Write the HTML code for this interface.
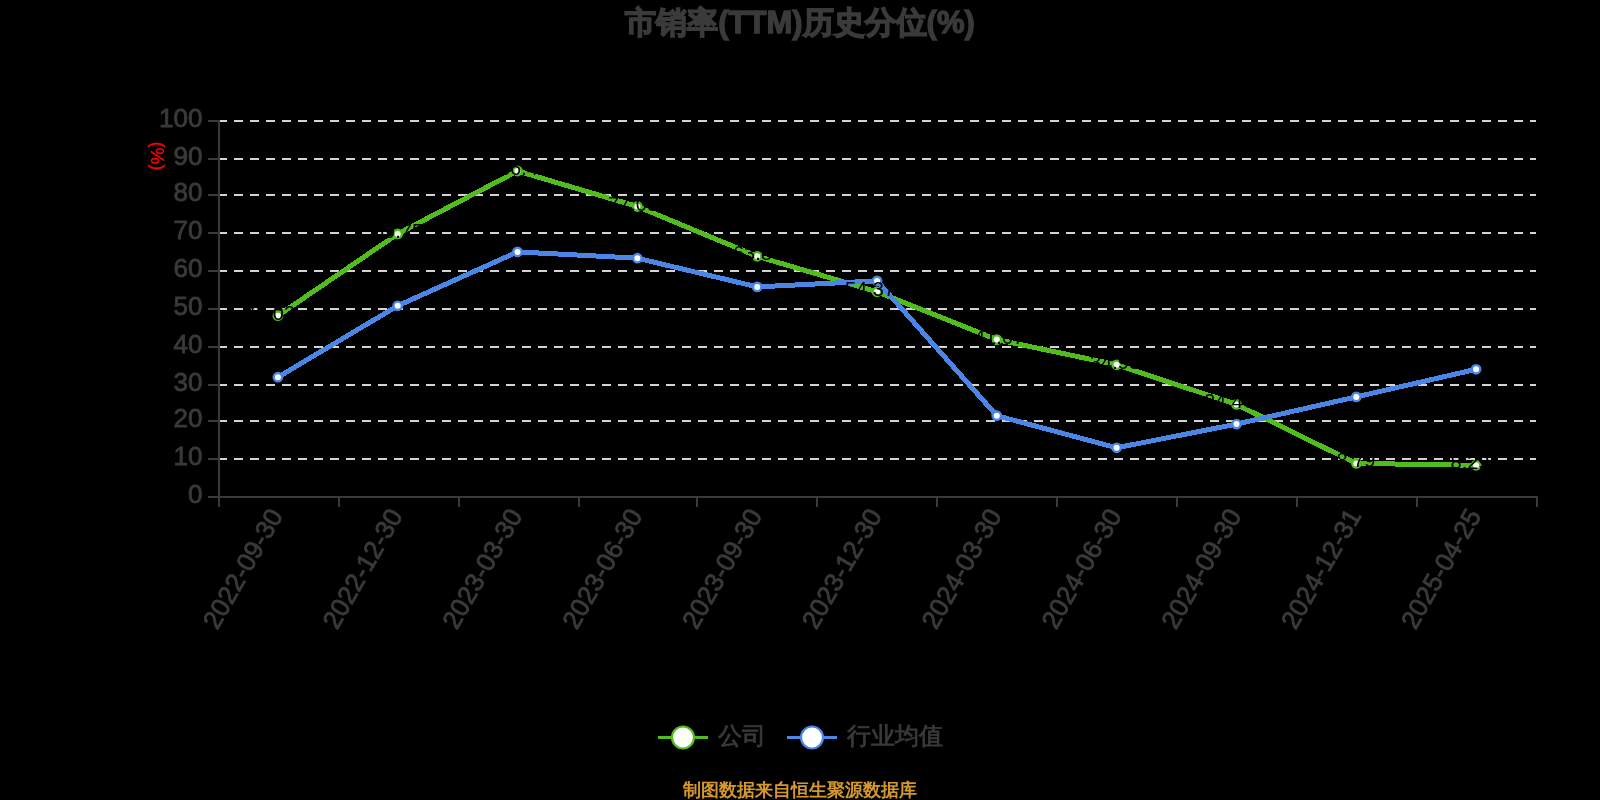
<!DOCTYPE html>
<html><head><meta charset="utf-8"><title>chart</title>
<style>
html,body{margin:0;padding:0;background:#000;width:1600px;height:800px;overflow:hidden}
svg{display:block;will-change:transform}
text{font-family:"Liberation Sans",sans-serif}
</style></head>
<body>
<svg width="1600" height="800" viewBox="0 0 1600 800">
<text x="800" y="33" text-anchor="middle" font-size="31" font-weight="bold" fill="#3a3a3a" stroke="#3a3a3a" stroke-width="1.3"><tspan stroke="#3a3a3a" stroke-width="1.4">市销率</tspan>(TTM)<tspan stroke="#3a3a3a" stroke-width="1.4">历史分位</tspan>(%)</text>
<line x1="218" y1="459" x2="1536" y2="459" stroke="#d4d4d4" stroke-width="2" stroke-dasharray="9 7"/>
<line x1="218" y1="421" x2="1536" y2="421" stroke="#d4d4d4" stroke-width="2" stroke-dasharray="9 7"/>
<line x1="218" y1="385" x2="1536" y2="385" stroke="#d4d4d4" stroke-width="2" stroke-dasharray="9 7"/>
<line x1="218" y1="347" x2="1536" y2="347" stroke="#d4d4d4" stroke-width="2" stroke-dasharray="9 7"/>
<line x1="218" y1="309" x2="1536" y2="309" stroke="#d4d4d4" stroke-width="2" stroke-dasharray="9 7"/>
<line x1="218" y1="271" x2="1536" y2="271" stroke="#d4d4d4" stroke-width="2" stroke-dasharray="9 7"/>
<line x1="218" y1="233" x2="1536" y2="233" stroke="#d4d4d4" stroke-width="2" stroke-dasharray="9 7"/>
<line x1="218" y1="195" x2="1536" y2="195" stroke="#d4d4d4" stroke-width="2" stroke-dasharray="9 7"/>
<line x1="218" y1="159" x2="1536" y2="159" stroke="#d4d4d4" stroke-width="2" stroke-dasharray="9 7"/>
<line x1="218" y1="121" x2="1536" y2="121" stroke="#d4d4d4" stroke-width="2" stroke-dasharray="9 7"/>
<line x1="208" y1="497" x2="219" y2="497" stroke="#3a3a3a" stroke-width="2"/>
<text x="202.5" y="503" text-anchor="end" font-size="26" fill="#3a3a3a" stroke="#3a3a3a" stroke-width="0.8">0</text>
<line x1="208" y1="459" x2="219" y2="459" stroke="#3a3a3a" stroke-width="2"/>
<text x="202.5" y="465" text-anchor="end" font-size="26" fill="#3a3a3a" stroke="#3a3a3a" stroke-width="0.8">10</text>
<line x1="208" y1="421" x2="219" y2="421" stroke="#3a3a3a" stroke-width="2"/>
<text x="202.5" y="427" text-anchor="end" font-size="26" fill="#3a3a3a" stroke="#3a3a3a" stroke-width="0.8">20</text>
<line x1="208" y1="385" x2="219" y2="385" stroke="#3a3a3a" stroke-width="2"/>
<text x="202.5" y="391" text-anchor="end" font-size="26" fill="#3a3a3a" stroke="#3a3a3a" stroke-width="0.8">30</text>
<line x1="208" y1="347" x2="219" y2="347" stroke="#3a3a3a" stroke-width="2"/>
<text x="202.5" y="353" text-anchor="end" font-size="26" fill="#3a3a3a" stroke="#3a3a3a" stroke-width="0.8">40</text>
<line x1="208" y1="309" x2="219" y2="309" stroke="#3a3a3a" stroke-width="2"/>
<text x="202.5" y="315" text-anchor="end" font-size="26" fill="#3a3a3a" stroke="#3a3a3a" stroke-width="0.8">50</text>
<line x1="208" y1="271" x2="219" y2="271" stroke="#3a3a3a" stroke-width="2"/>
<text x="202.5" y="277" text-anchor="end" font-size="26" fill="#3a3a3a" stroke="#3a3a3a" stroke-width="0.8">60</text>
<line x1="208" y1="233" x2="219" y2="233" stroke="#3a3a3a" stroke-width="2"/>
<text x="202.5" y="239" text-anchor="end" font-size="26" fill="#3a3a3a" stroke="#3a3a3a" stroke-width="0.8">70</text>
<line x1="208" y1="195" x2="219" y2="195" stroke="#3a3a3a" stroke-width="2"/>
<text x="202.5" y="201" text-anchor="end" font-size="26" fill="#3a3a3a" stroke="#3a3a3a" stroke-width="0.8">80</text>
<line x1="208" y1="159" x2="219" y2="159" stroke="#3a3a3a" stroke-width="2"/>
<text x="202.5" y="165" text-anchor="end" font-size="26" fill="#3a3a3a" stroke="#3a3a3a" stroke-width="0.8">90</text>
<line x1="208" y1="121" x2="219" y2="121" stroke="#3a3a3a" stroke-width="2"/>
<text x="202.5" y="127" text-anchor="end" font-size="26" fill="#3a3a3a" stroke="#3a3a3a" stroke-width="0.8">100</text>
<line x1="219" y1="120" x2="219" y2="498" stroke="#3a3a3a" stroke-width="2"/>
<line x1="208" y1="497" x2="1538" y2="497" stroke="#3a3a3a" stroke-width="2"/>
<line x1="219" y1="497" x2="219" y2="507" stroke="#3a3a3a" stroke-width="2"/>
<line x1="339" y1="497" x2="339" y2="507" stroke="#3a3a3a" stroke-width="2"/>
<line x1="459" y1="497" x2="459" y2="507" stroke="#3a3a3a" stroke-width="2"/>
<line x1="579" y1="497" x2="579" y2="507" stroke="#3a3a3a" stroke-width="2"/>
<line x1="697" y1="497" x2="697" y2="507" stroke="#3a3a3a" stroke-width="2"/>
<line x1="817" y1="497" x2="817" y2="507" stroke="#3a3a3a" stroke-width="2"/>
<line x1="937" y1="497" x2="937" y2="507" stroke="#3a3a3a" stroke-width="2"/>
<line x1="1057" y1="497" x2="1057" y2="507" stroke="#3a3a3a" stroke-width="2"/>
<line x1="1177" y1="497" x2="1177" y2="507" stroke="#3a3a3a" stroke-width="2"/>
<line x1="1297" y1="497" x2="1297" y2="507" stroke="#3a3a3a" stroke-width="2"/>
<line x1="1417" y1="497" x2="1417" y2="507" stroke="#3a3a3a" stroke-width="2"/>
<line x1="1537" y1="497" x2="1537" y2="507" stroke="#3a3a3a" stroke-width="2"/>
<text transform="translate(275.9,511) rotate(-60)" text-anchor="end" dominant-baseline="central" font-size="26" fill="#3a3a3a" stroke="#3a3a3a" stroke-width="0.8">2022-09-30</text>
<text transform="translate(395.7,511) rotate(-60)" text-anchor="end" dominant-baseline="central" font-size="26" fill="#3a3a3a" stroke="#3a3a3a" stroke-width="0.8">2022-12-30</text>
<text transform="translate(515.5,511) rotate(-60)" text-anchor="end" dominant-baseline="central" font-size="26" fill="#3a3a3a" stroke="#3a3a3a" stroke-width="0.8">2023-03-30</text>
<text transform="translate(635.4,511) rotate(-60)" text-anchor="end" dominant-baseline="central" font-size="26" fill="#3a3a3a" stroke="#3a3a3a" stroke-width="0.8">2023-06-30</text>
<text transform="translate(755.2,511) rotate(-60)" text-anchor="end" dominant-baseline="central" font-size="26" fill="#3a3a3a" stroke="#3a3a3a" stroke-width="0.8">2023-09-30</text>
<text transform="translate(875.0,511) rotate(-60)" text-anchor="end" dominant-baseline="central" font-size="26" fill="#3a3a3a" stroke="#3a3a3a" stroke-width="0.8">2023-12-30</text>
<text transform="translate(994.8,511) rotate(-60)" text-anchor="end" dominant-baseline="central" font-size="26" fill="#3a3a3a" stroke="#3a3a3a" stroke-width="0.8">2024-03-30</text>
<text transform="translate(1114.6,511) rotate(-60)" text-anchor="end" dominant-baseline="central" font-size="26" fill="#3a3a3a" stroke="#3a3a3a" stroke-width="0.8">2024-06-30</text>
<text transform="translate(1234.5,511) rotate(-60)" text-anchor="end" dominant-baseline="central" font-size="26" fill="#3a3a3a" stroke="#3a3a3a" stroke-width="0.8">2024-09-30</text>
<text transform="translate(1354.3,511) rotate(-60)" text-anchor="end" dominant-baseline="central" font-size="26" fill="#3a3a3a" stroke="#3a3a3a" stroke-width="0.8">2024-12-31</text>
<text transform="translate(1474.1,511) rotate(-60)" text-anchor="end" dominant-baseline="central" font-size="26" fill="#3a3a3a" stroke="#3a3a3a" stroke-width="0.8">2025-04-25</text>
<text transform="translate(157.5,156) rotate(90)" text-anchor="middle" dominant-baseline="central" font-size="17.5" fill="#ff0000" stroke="#ff0000" stroke-width="0.4">(<tspan font-size="19">%</tspan>)</text>
<polyline points="277.9,315.7 397.7,233.9 517.5,171.0 637.4,206.5 757.2,256.3 877.0,291.8 996.8,339.6 1116.6,364.8 1236.5,404.4 1356.3,463.4 1476.1,465.3" fill="none" stroke="#50bc1e" stroke-width="5" stroke-linejoin="round" shape-rendering="crispEdges"/>
<circle cx="277.9" cy="315.7" r="4.2" fill="#fff" stroke="#50bc1e" stroke-width="2.4"/>
<circle cx="397.7" cy="233.9" r="4.2" fill="#fff" stroke="#50bc1e" stroke-width="2.4"/>
<circle cx="517.5" cy="171.0" r="4.2" fill="#fff" stroke="#50bc1e" stroke-width="2.4"/>
<circle cx="637.4" cy="206.5" r="4.2" fill="#fff" stroke="#50bc1e" stroke-width="2.4"/>
<circle cx="757.2" cy="256.3" r="4.2" fill="#fff" stroke="#50bc1e" stroke-width="2.4"/>
<circle cx="877.0" cy="291.8" r="4.2" fill="#fff" stroke="#50bc1e" stroke-width="2.4"/>
<circle cx="996.8" cy="339.6" r="4.2" fill="#fff" stroke="#50bc1e" stroke-width="2.4"/>
<circle cx="1116.6" cy="364.8" r="4.2" fill="#fff" stroke="#50bc1e" stroke-width="2.4"/>
<circle cx="1236.5" cy="404.4" r="4.2" fill="#fff" stroke="#50bc1e" stroke-width="2.4"/>
<circle cx="1356.3" cy="463.4" r="4.2" fill="#fff" stroke="#50bc1e" stroke-width="2.4"/>
<circle cx="1476.1" cy="465.3" r="4.2" fill="#fff" stroke="#50bc1e" stroke-width="2.4"/>
<polyline points="277.9,377.2 397.7,305.8 517.5,251.9 637.4,258.2 757.2,286.9 877.0,280.9 996.8,415.7 1116.6,447.8 1236.5,424.1 1356.3,396.9 1476.1,369.3" fill="none" stroke="#4a86e6" stroke-width="5" stroke-linejoin="round" shape-rendering="crispEdges"/>
<circle cx="277.9" cy="377.2" r="4.2" fill="#fff" stroke="#4a86e6" stroke-width="2.4"/>
<circle cx="397.7" cy="305.8" r="4.2" fill="#fff" stroke="#4a86e6" stroke-width="2.4"/>
<circle cx="517.5" cy="251.9" r="4.2" fill="#fff" stroke="#4a86e6" stroke-width="2.4"/>
<circle cx="637.4" cy="258.2" r="4.2" fill="#fff" stroke="#4a86e6" stroke-width="2.4"/>
<circle cx="757.2" cy="286.9" r="4.2" fill="#fff" stroke="#4a86e6" stroke-width="2.4"/>
<circle cx="877.0" cy="280.9" r="4.2" fill="#fff" stroke="#4a86e6" stroke-width="2.4"/>
<circle cx="996.8" cy="415.7" r="4.2" fill="#fff" stroke="#4a86e6" stroke-width="2.4"/>
<circle cx="1116.6" cy="447.8" r="4.2" fill="#fff" stroke="#4a86e6" stroke-width="2.4"/>
<circle cx="1236.5" cy="424.1" r="4.2" fill="#fff" stroke="#4a86e6" stroke-width="2.4"/>
<circle cx="1356.3" cy="396.9" r="4.2" fill="#fff" stroke="#4a86e6" stroke-width="2.4"/>
<circle cx="1476.1" cy="369.3" r="4.2" fill="#fff" stroke="#4a86e6" stroke-width="2.4"/>
<text x="270" y="312.7" text-anchor="middle" dominant-baseline="central" font-size="20" fill="#000">48.02</text>
<text x="398" y="230.9" text-anchor="middle" dominant-baseline="central" font-size="20" fill="#000">69.75</text>
<text x="524" y="168.0" text-anchor="middle" dominant-baseline="central" font-size="20" fill="#000">86.45</text>
<text x="633" y="203.5" text-anchor="middle" dominant-baseline="central" font-size="20" fill="#000">77.03</text>
<text x="758" y="253.3" text-anchor="middle" dominant-baseline="central" font-size="20" fill="#000">63.80</text>
<text x="870" y="288.8" text-anchor="middle" dominant-baseline="central" font-size="20" fill="#000">54.37</text>
<text x="999" y="336.6" text-anchor="middle" dominant-baseline="central" font-size="20" fill="#000">41.67</text>
<text x="1115" y="361.8" text-anchor="middle" dominant-baseline="central" font-size="20" fill="#000">34.98</text>
<text x="1229" y="401.4" text-anchor="middle" dominant-baseline="central" font-size="20" fill="#000">24.46</text>
<text x="1356" y="460.4" text-anchor="middle" dominant-baseline="central" font-size="20" fill="#000">8.79</text>
<text x="1470" y="462.3" text-anchor="middle" dominant-baseline="central" font-size="20" fill="#000">8.29</text>
<line x1="658" y1="737.5" x2="708" y2="737.5" stroke="#50bc1e" stroke-width="3"/>
<circle cx="683" cy="737.5" r="11" fill="#fff" stroke="#50bc1e" stroke-width="2.2"/>
<text x="718" y="744" font-size="24" fill="#3a3a3a" stroke="#3a3a3a" stroke-width="0.8">公司</text>
<line x1="787" y1="737.5" x2="837" y2="737.5" stroke="#4a86e6" stroke-width="3"/>
<circle cx="812" cy="737.5" r="11" fill="#fff" stroke="#4a86e6" stroke-width="2.2"/>
<text x="847" y="744" font-size="24" fill="#3a3a3a" stroke="#3a3a3a" stroke-width="0.8">行业均值</text>
<text x="800" y="796" text-anchor="middle" font-size="18" font-weight="bold" fill="#d4982d" style="font-family:'Liberation Serif',serif">制图数据来自恒生聚源数据库</text>
</svg>
</body></html>
